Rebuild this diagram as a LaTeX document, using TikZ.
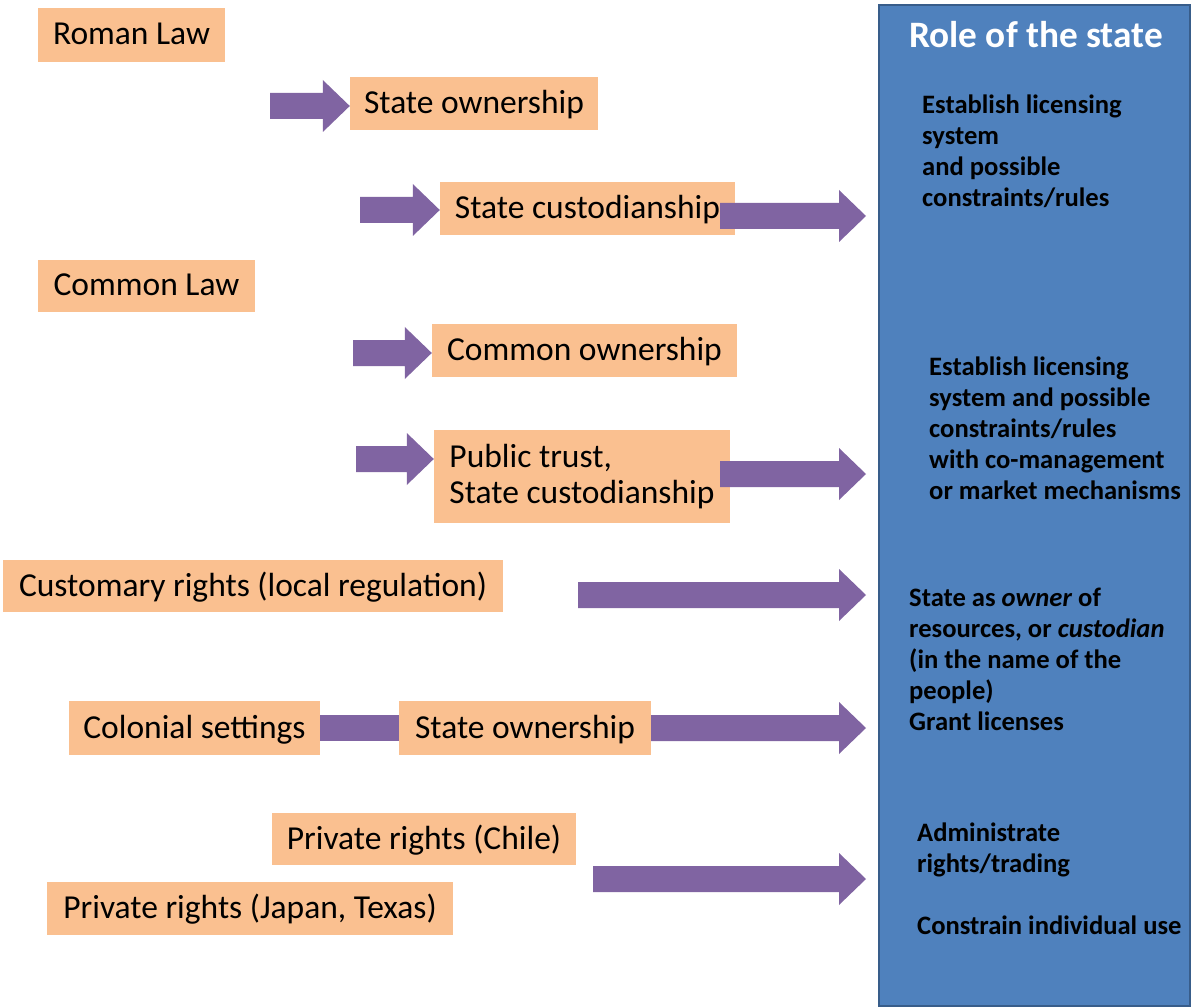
\documentclass[tikz,border=0pt]{standalone}
\usepackage{fontspec}
\setmainfont{Carlito}
\usetikzlibrary{calc}
\definecolor{orangefill}{HTML}{FAC090}
\definecolor{arrowpurple}{HTML}{8064A2}
\definecolor{stateblue}{HTML}{4F81BD}
\definecolor{stateedge}{HTML}{385D8A}
\tikzset{
  obox/.style={fill=orangefill, draw=none, inner sep=0pt, text=black,
    font=\fontsize{33.5}{36}\selectfont},
  oline/.style={obox, text height=25pt, text depth=5pt},
  rtext/.style={anchor=north west, align=left, inner sep=0pt, text=black,
    font=\fontsize{26.6}{31}\selectfont\bfseries},
  statebox/.style={fill=stateblue, draw=stateedge, line width=2pt},
  titletext/.style={text=white, font=\fontsize{37.3}{40}\selectfont\bfseries, inner sep=0pt},
  blockfill/.style={fill=arrowpurple},
}
\newcommand\blockarr[2]{%
  \fill[blockfill] let \p1=(#1), \p2=(#2) in
    (\x1,\y1+13pt) -- (\x2-27pt,\y1+13pt) -- (\x2-27pt,\y1+26pt) -- (\x2,\y1)
    -- (\x2-27pt,\y1-26pt) -- (\x2-27pt,\y1-13pt) -- (\x1,\y1-13pt) -- cycle;}
\begin{document}
\begin{tikzpicture}[x=1pt,y=-1pt]
\useasboundingbox (0,0) rectangle (1194,1008);
\fill[white] (0,0) rectangle (1194,1008);

% state box
\node[statebox, minimum width=311pt, minimum height=1001pt, inner sep=0pt] (role) at (1034.5,505.5) {};
\node[titletext] (title) at (1036,35) {Role of the state};

\node[rtext] (r1) at (922,95) {Establish licensing\\system\\and possible\\constraints/rules};
\node[rtext] (r2) at (929,357) {Establish licensing\\system and possible\\constraints/rules\\with co-management\\or market mechanisms};
\node[rtext] (r3) at (909,588) {State as \textit{owner} of\\resources, or \textit{custodian}\\(in the name of the\\people)\\Grant licenses};
\node[rtext] (r4) at (917,823) {Administrate\\rights/trading\\[31pt]Constrain individual use};

% orange boxes
\node[oline, minimum width=187pt, minimum height=54pt] (roman) at (131.5,35) {Roman Law};
\node[oline, minimum width=248pt, minimum height=53pt] (sown) at (474,103.5) {State ownership};
\node[oline, minimum width=295pt, minimum height=53pt] (scust) at (587.5,208.5) {State custodianship};
\node[oline, minimum width=217pt, minimum height=52pt] (common) at (146.5,286) {Common Law};
\node[oline, minimum width=305pt, minimum height=53pt] (cown) at (584.5,350.5) {Common ownership};
\node[obox, minimum width=296pt, minimum height=93pt, align=left] (ptrust) at (582,476.5) {Public trust,\\State custodianship};
\node[oline, minimum width=500pt, minimum height=52pt] (custom) at (253,586) {Customary rights (local regulation)};
\node[oline, minimum width=251pt, minimum height=54pt] (colonial) at (194.5,728) {Colonial settings};
\node[oline, minimum width=252pt, minimum height=54pt] (sown2) at (525,728) {State ownership};
\node[oline, minimum width=304pt, minimum height=52pt] (chile) at (424,839) {Private rights (Chile)};
\node[oline, minimum width=406pt, minimum height=53pt] (japan) at (250,908.5) {Private rights (Japan, Texas)};

% arrow coordinates
\coordinate (a1s) at (270,106);
\coordinate (a2s) at (360,210);
\coordinate (a3s) at (720,216);
\coordinate (a3t) at (866,216);
\coordinate (a4s) at (353,353);
\coordinate (a5s) at (356,459);
\coordinate (a6s) at (720,474);
\coordinate (a6t) at (866,474);
\coordinate (a7s) at (578,595);
\coordinate (a7t) at (866,595);
\coordinate (a8t) at (866,729);
\coordinate (a9s) at (593,879);
\coordinate (a9t) at (866,879);

\blockarr{a1s}{sown.west}
\blockarr{a2s}{scust.west}
\blockarr{a3s}{a3t}
\blockarr{a4s}{cown.west}
\blockarr{a5s}{ptrust.west}
\blockarr{a6s}{a6t}
\blockarr{a7s}{a7t}
\fill[blockfill] ($(colonial.east)+(0,-13)$) rectangle ($(sown2.west)+(0,13)$);
\blockarr{sown2.east}{a8t}
\blockarr{a9s}{a9t}
\end{tikzpicture}
\end{document}
